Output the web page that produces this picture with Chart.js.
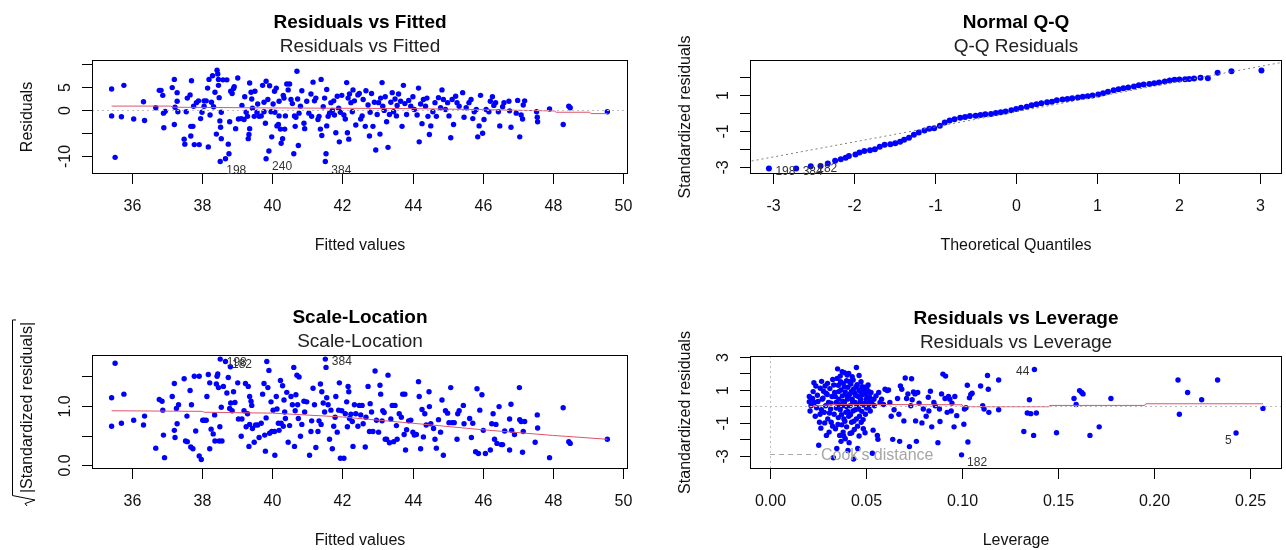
<!DOCTYPE html>
<html>
<head>
<meta charset="utf-8">
<script src="https://cdn.jsdelivr.net/npm/chart.js@4.4.0/dist/chart.umd.min.js"></script>
<style>
  html, body { margin: 0; padding: 0; background: #fff; }
  #wrap { position: relative; width: 1286px; height: 550px; }
  #wrap canvas { position: absolute; left: 0; top: 0; }
</style>
</head>
<body>
<div id="wrap">
  <canvas id="c1" width="1286" height="550"></canvas>
  <canvas id="c2" width="1286" height="550"></canvas>
  <canvas id="c3" width="1286" height="550"></canvas>
  <canvas id="c4" width="1286" height="550"></canvas>
</div>
<script>
// ===============================
// Data
// ===============================

// Residuals vs Fitted
const tlFitted = [
  35.41,35.41,35.51,35.69,35.76,36.04,36.32,36.35,36.67,36.77,
  36.82,36.87,36.89,36.90,36.94,37.14,37.20,37.20,37.22,37.28,
  37.28,37.30,37.48,37.50,37.54,37.57,37.65,37.67,37.67,37.69,
  37.73,37.75,37.77,37.83,37.89,37.91,37.95,37.99,38.05,38.05,
  38.11,38.15,38.17,38.19,38.22,38.26,38.29,38.32,38.36,38.40,
  38.42,38.44,38.46,38.46,38.48,38.50,38.52,38.54,38.54,38.51,
  38.59,38.66,38.70,38.74,38.76,38.78,38.81,38.85,38.89,38.91,
  38.95,39.01,39.03,39.11,39.13,39.19,39.21,39.25,39.29,39.31,
  39.33,39.35,39.35,39.39,39.41,39.43,39.48,39.50,39.56,39.58,
  39.62,39.68,39.72,39.76,39.76,39.80,39.82,39.82,39.87,39.90,
  39.92,39.96,39.98,40.02,40.06,40.07,40.11,40.13,40.17,40.19,
  40.19,40.23,40.25,40.29,40.31,40.33,40.35,40.37,40.41,40.45,
  40.49,40.53,40.57,40.61,40.63,40.65,40.67,40.70,40.72,40.74,
  40.76,40.80,40.84,40.90,40.92,40.98,41.04,41.10,41.12,41.16,
  41.20,41.24,41.30,41.33,41.37,41.39,41.41,41.45,41.49,41.53,
  41.51,41.55,41.55,41.59,41.63,41.67,41.71,41.75,41.77,41.81,
  41.85,41.89,41.91,41.94,41.98,42.04,42.08,42.12,42.14,42.16,
  42.18,42.20,42.24,42.28,42.30,42.34,42.38,42.44,42.48,42.52,
  42.56,42.59,42.65,42.67,42.73,42.77,42.79,42.83,42.87,42.91,
  42.95,42.99,43.03,43.07,43.09,43.13,43.15,43.19,43.22,43.26,
  43.30,43.34,43.38,43.42,43.46,43.50,43.54,43.56,43.60,43.66,
  43.70,43.74,43.78,43.83,43.89,43.95,44.01,44.05,44.13,44.17,
  44.19,44.23,44.27,44.31,44.37,44.41,44.44,44.48,44.52,44.58,
  44.64,44.68,44.74,44.80,44.84,44.88,44.94,45.00,45.04,45.09,
  45.13,45.17,45.23,45.27,45.33,45.43,45.47,45.53,45.61,45.67,
  45.72,45.76,45.82,45.86,45.90,45.94,46.00,46.04,46.10,46.18,
  46.22,46.28,46.32,46.37,46.45,46.49,46.57,46.61,46.75,46.77,
  46.81,46.96,47.00,47.06,47.10,47.14,47.16,47.20,47.54,47.56,
  47.57,47.91,48.30,48.46,48.50,49.56
];
const tlResid = [
  4.6,-1.3,-10.4,-1.5,5.4,-2.0,1.8,-2.3,0.5,4.3,
  4.3,3.2,-0.7,-3.9,-0.3,4.9,6.7,-3.2,0.6,3.8,
  1.9,-0.4,-6.4,-7.5,-0.4,2.6,3.3,-5.7,-3.6,6.4,
  -3.6,0.8,-7.6,1.6,2.0,-7.6,-1.9,-0.5,2.0,0.8,
  2.0,4.8,-8.1,6.7,-1.1,1.7,7.5,0.7,3.9,-5.3,
  8.7,7.9,6.7,5.4,2.7,-2.4,-3.8,-6.3,-0.5,-11.3,
  6.6,-10.7,6.6,-7.5,-9.6,-2.6,4.1,3.6,4.7,5.1,
  -4.1,7.0,-2.0,-1.9,1.0,-2.1,2.9,-0.5,-1.4,-6.3,
  -5.4,-4.1,5.9,3.9,2.4,0.4,-1.4,4.1,-0.5,1.3,
  -1.4,-1.3,5.4,1.7,-0.4,-2.9,6.3,-10.7,2.3,-9.0,
  5.3,-0.4,-5.9,1.3,4.1,-0.5,4.8,-3.5,-3.2,1.9,
  -1.3,-4.2,-7.3,-6.3,3.2,2.6,-4.2,-1.3,5.7,4.4,
  5.7,2.3,1.4,-9.6,-1.3,-3.6,-1.6,8.5,2.4,-7.8,
  -0.7,0.8,4.2,-2.9,-4.1,1.9,-0.7,3.5,-1.4,6.1,
  2.0,2.6,-2.1,-1.4,-4.2,6.7,-5.6,0.7,2.6,-9.6,
  -11.3,4.5,-3.5,-1.4,-0.7,1.6,-0.1,2.0,-1.1,-5.0,
  3.0,0.4,-7.0,-0.5,3.2,-1.1,-2.0,6.0,-5.0,2.6,
  -6.4,3.5,1.6,-0.4,4.4,2.0,-3.3,3.3,3.6,-2.0,
  -1.3,2.3,-3.6,4.2,1.1,-5.7,-0.5,3.6,-3.6,1.7,
  -8.8,-1.0,1.6,-5.3,2.6,6.0,0.8,-0.1,2.9,-2.6,
  -8.2,-1.0,1.7,3.8,-0.4,2.4,-1.3,1.0,3.5,1.9,
  -3.6,5.4,1.4,-1.0,2.1,0.8,2.9,0.1,-1.1,4.8,
  -7.0,1.3,-3.0,2.3,0.8,2.6,-1.4,-5.4,-3.5,-0.4,
  1.6,-1.4,2.7,0.5,4.4,2.3,0.1,1.6,-1.3,-6.1,
  2.3,-3.2,3.0,1.6,0.8,3.8,-1.6,0.5,1.6,2.3,
  -1.9,-0.4,0.1,-5.9,-3.5,3.2,-5.1,-2.1,0.1,-0.4,
  1.9,2.9,1.0,1.6,-0.4,-3.5,0.7,1.6,1.9,-0.2,
  -3.8,-0.7,2.1,-5.9,-1.1,-2.0,1.1,2.0,-0.4,-1.6,
  -2.6,0.2,-3.2,0.8,0.5,-0.4
];
const tlSmoothX = [35.41,37.10,37.15,38.0,40.0,42.0,44.0,46.0,47.2,48.05,48.10,49.05,49.10,49.56];
const tlSmoothY = [0.85,0.85,0.6,0.55,0.45,0.37,0.3,0.07,-0.1,-0.22,-0.5,-0.5,-0.8,-0.8];

// Normal Q-Q
const qqTheo = [
  -3.045,-2.71,-2.53,-2.41,-2.32,-2.23,-2.16,-2.10,-2.06,-1.98,
  -1.93,-1.87,-1.80,-1.74,-1.68,-1.62,-1.55,-1.49,-1.43,
  -1.38,-1.32,-1.26,-1.20,-1.13,-1.07,-1.01,-0.94,-0.88,-0.82,
  -0.76,-0.69,-0.63,-0.57,-0.50,-0.44,-0.38,-0.31,-0.25,-0.19,
  -0.13,-0.06,0,0.06,0.13,0.19,0.25,0.31,0.38,0.44,
  0.50,0.57,0.63,0.69,0.76,0.82,0.88,0.94,1.01,1.07,
  1.13,1.20,1.26,1.32,1.38,1.45,1.51,1.57,1.64,1.70,
  1.76,1.83,1.89,1.95,2.01,2.08,2.13,2.19,2.27,2.36,
  2.48,2.65,3.02
];
const qqStd = [
  -3.09,-3.09,-2.96,-2.94,-2.80,-2.65,-2.57,-2.48,-2.39,-2.30,
  -2.20,-2.11,-2.07,-2.01,-1.87,-1.77,-1.74,-1.68,-1.60,
  -1.49,-1.38,-1.21,-1.08,-0.97,-0.88,-0.84,-0.71,-0.52,-0.41,
  -0.34,-0.26,-0.22,-0.17,-0.15,-0.11,-0.07,-0.06,0.0,0.04,
  0.09,0.15,0.22,0.30,0.35,0.43,0.49,0.54,0.60,0.63,
  0.71,0.75,0.78,0.82,0.86,0.90,0.93,0.97,1.03,1.10,
  1.19,1.27,1.32,1.38,1.42,1.47,1.55,1.59,1.62,1.66,
  1.70,1.75,1.81,1.85,1.87,1.88,1.90,1.92,1.96,1.94,
  2.24,2.33,2.37
];
const qqLineX = [-3.5, 3.5];
const qqLineY = [-2.87, 3.01];

// Scale-Location
const slFitted = [
  35.41,35.41,35.51,35.69,35.76,36.04,36.32,36.35,36.67,36.77,
  36.85,36.87,36.89,36.92,37.14,37.20,37.20,37.22,37.26,37.28,
  37.32,37.48,37.52,37.56,37.57,37.65,37.67,37.69,37.73,37.77,
  37.81,37.91,37.91,37.97,38.01,38.05,38.11,38.13,38.17,38.21,
  38.25,38.21,38.31,38.35,38.36,38.40,38.42,38.44,38.46,38.48,
  38.50,38.51,38.54,38.56,38.60,38.66,38.70,38.74,38.78,38.80,
  38.81,38.85,38.89,38.93,39.01,39.03,39.11,39.13,39.19,39.23,
  39.25,39.29,39.31,39.33,39.35,39.35,39.39,39.41,39.43,39.48,
  39.52,39.58,39.62,39.68,39.72,39.76,39.78,39.80,39.82,39.84,
  39.87,39.90,39.92,39.96,39.98,40.02,40.06,40.07,40.11,40.13,
  40.17,40.19,40.23,40.25,40.29,40.31,40.33,40.35,40.37,40.41,
  40.45,40.49,40.53,40.57,40.61,40.63,40.65,40.67,40.70,40.72,
  40.74,40.76,40.80,40.84,40.90,40.92,40.98,41.06,41.10,41.12,
  41.16,41.20,41.24,41.30,41.33,41.37,41.39,41.41,41.45,41.49,
  41.51,41.53,41.55,41.59,41.63,41.67,41.71,41.75,41.79,41.81,
  41.85,41.89,41.91,41.94,41.98,42.04,42.08,42.12,42.14,42.16,
  42.18,42.20,42.24,42.28,42.30,42.34,42.38,42.44,42.48,42.52,
  42.56,42.59,42.65,42.67,42.73,42.77,42.79,42.83,42.87,42.93,
  42.97,43.03,43.07,43.09,43.13,43.15,43.19,43.22,43.26,43.30,
  43.34,43.38,43.42,43.46,43.50,43.54,43.56,43.62,43.68,43.72,
  43.76,43.78,43.80,43.83,43.89,43.95,44.01,44.05,44.11,44.17,
  44.19,44.23,44.27,44.31,44.35,44.39,44.47,44.48,44.52,44.60,
  44.64,44.68,44.74,44.80,44.84,44.88,44.94,45.00,45.04,45.09,
  45.13,45.19,45.27,45.29,45.33,45.45,45.47,45.63,45.68,45.72,
  45.80,45.84,45.88,45.92,45.98,46.02,46.08,46.22,46.26,46.30,
  46.34,46.38,46.41,46.47,46.53,46.57,46.63,46.77,46.77,46.81,
  46.83,46.91,47.05,47.06,47.10,47.14,47.16,47.20,47.50,47.56,
  47.57,47.91,48.30,48.46,48.50,49.56
];
const slRoot = [
  1.14,0.66,1.72,0.71,1.20,0.76,0.68,0.83,0.29,1.11,
  1.08,0.93,0.51,0.13,1.16,1.38,0.59,0.47,0.96,0.70,
  1.02,1.46,0.41,0.83,0.40,1.26,0.31,1.02,0.28,1.50,
  0.58,1.50,0.16,0.10,0.76,0.76,0.76,1.16,1.53,0.28,
  0.61,1.39,0.53,0.85,0.41,1.37,1.50,1.54,1.31,0.41,
  0.65,1.79,0.98,0.41,1.33,1.75,1.22,1.48,0.96,1.66,
  1.05,0.92,1.24,1.06,1.39,0.78,0.49,0.78,0.92,1.38,
  0.65,0.87,1.33,0.32,1.16,0.69,1.08,1.01,0.62,0.39,
  0.68,0.68,0.47,0.71,1.20,1.38,0.51,0.24,0.80,1.75,
  1.31,1.60,0.54,1.07,0.57,0.93,0.57,0.17,1.16,0.95,
  0.71,0.59,1.43,0.71,1.34,0.66,1.10,0.90,0.79,1.23,
  0.39,0.67,1.16,1.02,1.65,0.32,0.92,1.19,1.52,1.02,
  0.79,1.49,0.49,0.69,1.08,0.90,1.07,0.17,0.57,0.75,
  1.30,1.02,0.30,0.57,0.75,1.37,0.69,1.24,1.05,0.90,
  1.79,1.65,1.14,1.02,0.44,0.93,0.28,0.66,0.81,1.16,
  0.56,0.93,1.39,0.12,0.92,0.12,0.87,1.07,0.65,1.33,
  1.24,0.79,0.86,0.74,0.32,1.02,0.87,0.66,1.01,0.85,
  1.01,0.70,0.31,0.81,1.33,0.57,1.04,0.90,0.57,1.59,
  0.76,0.56,1.35,1.20,0.75,0.92,0.89,0.44,0.44,1.52,
  0.38,0.78,1.01,0.40,1.01,0.67,0.44,0.87,0.81,1.20,
  0.52,1.20,0.26,0.60,0.75,0.76,0.56,0.51,0.52,1.41,
  1.16,0.28,0.94,0.48,0.87,0.68,1.24,0.99,0.70,0.62,
  0.44,0.29,0.77,0.56,1.10,0.17,0.92,0.88,0.72,1.31,
  0.72,0.72,0.44,0.87,0.92,1.01,0.70,0.79,0.47,0.71,
  0.23,1.29,0.20,0.93,1.19,0.59,0.20,0.26,0.70,0.87,
  0.44,0.69,0.37,0.99,0.35,0.35,0.58,0.26,0.78,1.03,
  0.59,0.52,1.31,0.77,0.74,0.22,0.57,0.74,0.39,0.85,
  0.63,0.13,0.97,0.40,0.37,0.44
];
const slSmoothX = [35.41,38.0,38.05,40.0,42.0,44.0,46.0,48.0,49.56];
const slSmoothY = [0.92,0.91,0.895,0.88,0.815,0.71,0.60,0.505,0.44];

// Residuals vs Leverage
const lvLeverage = [
  .0205,.0205,.0209,.0214,.0222,.0229,.0232,.0239,.0243,.0247,
  .0254,.0258,.0261,.0265,.0269,.0272,.0279,.0283,.0287,.0290,
  .0294,.0298,.0301,.0305,.0308,.0312,.0316,.0319,.0323,.0327,
  .0330,.0334,.0337,.0341,.0345,.0348,.0352,.0356,.0356,.0359,
  .0363,.0366,.0366,.0370,.0370,.0374,.0377,.0377,.0381,.0381,
  .0385,.0388,.0388,.0392,.0392,.0395,.0399,.0399,.0403,.0406,
  .0406,.0410,.0410,.0414,.0417,.0417,.0421,.0425,.0428,.0428,
  .0432,.0435,.0435,.0439,.0443,.0446,.0450,.0450,.0454,.0457,
  .0461,.0464,.0464,.0468,.0472,.0475,.0479,.0483,.0486,.0490,
  .0493,.0497,.0501,.0504,.0508,.0512,.0515,.0519,.0522,.0526,
  .0530,.0533,.0537,.0541,.0544,.0552,.0559,.0562,.0566,.0573,
  .0581,.0591,.0599,.0610,.0617,.0624,.0631,.0639,.0646,.0664,
  .0671,.0675,.0679,.0686,.0697,.0704,.0711,.0718,.0726,.0733,
  .0737,.0740,.0747,.0755,.0758,.0762,.0769,.0776,.0791,.0798,
  .0813,.0824,.0827,.0835,.0842,.0853,.0860,.0874,.0882,.0885,
  .0893,.0900,.0911,.0914,.0922,.0929,.0936,.0943,.0947,.0958,
  .0962,.0972,.0997,.1009,.1012,.1020,.1027,.1030,.1038,.1045,
  .1052,.1096,.1107,.1114,.1132,.1136,.1139,.1190,.1190,.1321,
  .1350,.1339,.1357,.1372,.1376,.1386,.1491,.1582,.1593,.1611,
  .1622,.1629,.1665,.1713,.1774,.2123,.2130,.2173,.2246,.2329,
  .2425,.2565,
  .0225,.0236,.0250,.0262,.0268,.0276,.0285,.0292,.0300,.0310,
  .0318,.0326,.0332,.0340,.0346,.0350,.0354,.0358,.0362,.0368,
  .0372,.0376,.0380,.0384,.0387,.0390,.0394,.0398,.0402,.0405,
  .0408,.0412,.0415,.0419,.0423,.0426,.0430,.0433,.0437,.0441,
  .0444,.0448,.0452,.0456,.0459,.0463,.0466,.0470,.0474,.0478,
  .0481,.0485,.0488,.0492,.0495,.0499,.0503,.0507,.0511,.0517
];
const lvStd = [
  .60,.28,-.28,.04,.48,1.44,.24,1.24,-.08,.68,
  -2.36,-.96,-.48,-1.32,1.52,.44,.92,-.36,1.24,.04,
  -1.76,.72,-.76,.24,-1.56,1.08,-.16,-.96,.60,1.64,
  -3.12,-.48,.84,-1.36,.24,-2.56,2.28,1.28,-.68,.44,
  -1.76,1.84,-.20,1.00,-2.12,-1.12,.64,.04,1.40,-1.56,
  -.76,2.04,.24,.88,-1.96,-.36,1.56,-1.24,.44,1.16,
  -2.68,2.00,-.60,.72,.04,-1.64,1.36,-.96,1.80,.44,
  -.28,1.04,-3.20,-1.40,.24,.68,2.36,-.76,1.32,-2.56,
  -.16,1.88,-1.80,.92,.44,-.96,1.20,.08,-1.36,.76,
  1.16,-.48,.44,1.16,.28,.92,-.04,.56,-.28,.84,
  .24,-2.84,-1.44,.44,.04,.64,-1.76,-2.00,.84,.24,
  .44,.12,1.04,.96,1.00,.24,-.60,-2.00,-.20,.48,
  -.48,-2.12,1.24,1.04,-.88,1.72,.48,.76,-2.44,.04,
  1.68,.40,.88,.76,-.88,-2.12,.84,.20,-1.00,-.16,
  -.60,.56,-.28,.92,-1.24,.24,.04,-2.20,-.16,-.92,
  .76,1.96,.48,1.84,-.36,.60,.44,-.28,.20,-1.24,
  .60,-.56,-2.94,-1.08,-.16,-.08,1.28,-2.16,.52,.72,
  .80,1.24,.04,-.16,1.88,1.04,-.36,1.60,-.20,-1.52,
  .40,-.40,-.44,-1.76,2.24,-.40,-1.60,.48,.12,.96,
  .84,.76,-1.76,-1.24,.48,1.60,-.48,.84,.40,1.60,
  -1.61,-.12,
  .90,-.60,.30,1.10,-.20,.50,-1.00,.80,1.40,-.40,
  .20,-1.20,1.30,.60,-.10,1.70,-1.10,.90,.10,1.50,
  -.50,2.10,.30,-1.80,1.20,-.90,.70,.00,1.90,-.30,
  .50,-2.20,1.50,-.50,.90,-1.60,.30,1.60,-.90,.80,
  -.20,1.20,.10,-1.20,.60,1.00,-.60,.30,1.50,-.30,
  .70,-.80,1.00,.20,-1.60,.90,-.10,.60,1.30,.30
];
const lvSmoothX = [0.0205,0.033,0.100,0.1005,0.145,0.1455,0.195,0.1955,0.2565];
const lvSmoothY = [-0.02,0.12,0.10,-0.02,-0.02,0.06,0.06,0.16,0.16];

// Tick values and labels
const fitTicks = [36, 38, 40, 42, 44, 46, 48, 50];
const fitTickLabels = ['36', '38', '40', '42', '44', '46', '48', '50'];
const residTicks = [-10, -5, 0, 5, 10];
const residTickLabels = ['-10', '', '0', '5', ''];
const qqXTicks = [-3, -2, -1, 0, 1, 2, 3];
const qqXTickLabels = ['-3', '-2', '-1', '0', '1', '2', '3'];
const qqYTicks = [-3, -2, -1, 0, 1, 2];
const qqYTickLabels = ['-3', '', '-1', '', '1', ''];
const slYTicks = [0, 0.5, 1, 1.5];
const slYTickLabels = ['0.0', '', '1.0', ''];
const lvXTicks = [0, 0.05, 0.10, 0.15, 0.20, 0.25];
const lvXTickLabels = ['0.00', '0.05', '0.10', '0.15', '0.20', '0.25'];
const lvYTicks = [-3, -2, -1, 0, 1, 2, 3];
const lvYTickLabels = ['-3', '', '-1', '', '1', '', '3'];

// ===============================
// Helpers
// ===============================
const FONT = '"Liberation Sans", Arial, Helvetica, sans-serif';
const BLUE = '#0000ff';
const RED = '#DF536B';

function pts(xs, ys) {
  return xs.map((v, i) => ({ x: v, y: ys[i] }));
}

// draws the R style frame: box, ticks, titles, point ids
function makeFrame(p) {
  return {
    id: 'rFrame',
    afterDatasetsDraw(chart) {
      const { ctx, chartArea: a } = chart;
      const xs = chart.scales.x, ys = chart.scales.y;
      ctx.save();
      ctx.beginPath();
      ctx.rect(a.left, a.top, a.right - a.left, a.bottom - a.top);
      ctx.clip();
      ctx.strokeStyle = '#bebebe';
      ctx.lineWidth = 1;
      ctx.setLineDash([2, 3]);
      (p.hLines || []).forEach(v => {
        const py = Math.round(ys.getPixelForValue(v)) + 0.5;
        ctx.beginPath(); ctx.moveTo(a.left, py); ctx.lineTo(a.right, py); ctx.stroke();
      });
      (p.vLines || []).forEach(v => {
        const px = Math.round(xs.getPixelForValue(v)) + 0.5;
        ctx.beginPath(); ctx.moveTo(px, a.top); ctx.lineTo(px, a.bottom); ctx.stroke();
      });
      ctx.restore();
    },
    afterDraw(chart) {
      const { ctx, chartArea: a } = chart;
      const xs = chart.scales.x, ys = chart.scales.y;
      const cx = (a.left + a.right) / 2;
      const cy = (a.top + a.bottom) / 2;
      ctx.save();
      ctx.setLineDash([]);
      ctx.strokeStyle = '#000';
      ctx.lineWidth = 1;
      ctx.strokeRect(a.left + 0.5, a.top + 0.5, a.right - a.left - 1, a.bottom - a.top - 1);

      // x axis
      ctx.fillStyle = '#111';
      ctx.font = '16px ' + FONT;
      ctx.textAlign = 'center';
      ctx.textBaseline = 'alphabetic';
      p.xTicks.forEach((v, i) => {
        const px = Math.round(xs.getPixelForValue(v)) + 0.5;
        ctx.beginPath(); ctx.moveTo(px, a.bottom); ctx.lineTo(px, a.bottom + 10); ctx.stroke();
        ctx.fillText(p.xLabels[i], px, a.bottom + 36.5);
      });

      // y axis, labels read upwards like R
      p.yTicks.forEach((v, i) => {
        const py = Math.round(ys.getPixelForValue(v)) + 0.5;
        ctx.beginPath(); ctx.moveTo(a.left - 10, py); ctx.lineTo(a.left, py); ctx.stroke();
        if (p.yLabels[i]) {
          ctx.save();
          ctx.translate(a.left - 22, py);
          ctx.rotate(-Math.PI / 2);
          ctx.fillText(p.yLabels[i], 0, 0);
          ctx.restore();
        }
      });

      // axis titles
      ctx.fillText(p.xTitle, cx, a.bottom + 76);
      ctx.save();
      if (p.sqrtTitle) {
        ctx.translate(a.left - 60, cy - 4.5);
        ctx.rotate(-Math.PI / 2);
        const w = ctx.measureText(p.yTitle).width;
        ctx.textAlign = 'left';
        ctx.fillText(p.yTitle, -w / 2, 0);
        const x0 = -w / 2 - 2;
        ctx.beginPath();
        ctx.moveTo(x0 - 11, -5);
        ctx.lineTo(x0 - 8.5, -7);
        ctx.lineTo(x0 - 5, 3);
        ctx.lineTo(x0 - 0.5, -19.5);
        ctx.lineTo(x0 + w + 4, -19.5);
        ctx.lineTo(x0 + w + 4, -16);
        ctx.stroke();
      } else {
        ctx.translate(a.left - 60, cy);
        ctx.rotate(-Math.PI / 2);
        ctx.fillText(p.yTitle, 0, 0);
      }
      ctx.restore();

      // main title + caption
      ctx.fillStyle = '#000';
      ctx.font = 'bold 19px ' + FONT;
      ctx.fillText(p.title, cx, a.top - 32);
      ctx.fillStyle = '#222';
      ctx.font = '19px ' + FONT;
      ctx.fillText(p.sub, cx, a.top - 8.5);

      // point ids
      ctx.fillStyle = '#333';
      ctx.font = '12px ' + FONT;
      (p.ids || []).forEach(d => {
        ctx.textAlign = d.align || 'left';
        ctx.fillText(d.text, xs.getPixelForValue(d.x) + d.dx, ys.getPixelForValue(d.y) + d.dy);
      });

      // Cook's distance legend
      if (p.cook) {
        const ly = Math.round(a.bottom - 15) + 0.5;
        ctx.strokeStyle = '#aaaaaa';
        ctx.setLineDash([5, 4]);
        ctx.beginPath(); ctx.moveTo(a.left + 20, ly); ctx.lineTo(a.left + 67, ly); ctx.stroke();
        ctx.setLineDash([]);
        ctx.fillStyle = '#a6a6a6';
        ctx.font = '16px ' + FONT;
        ctx.textAlign = 'left';
        ctx.textBaseline = 'middle';
        ctx.fillText("Cook's distance", a.left + 71, a.bottom - 13.5);
      }
      ctx.restore();
    }
  };
}

function pointSet(data, r) {
  return {
    data: data,
    showLine: false,
    pointRadius: r || 2.7,
    pointBackgroundColor: BLUE,
    pointBorderWidth: 0,
    order: 2
  };
}

function lineSet(data, color, dash) {
  return {
    data: data,
    showLine: true,
    borderColor: color,
    borderWidth: 1,
    borderDash: dash || [],
    pointRadius: 0,
    fill: false,
    order: 1
  };
}

function makeChart(id, p, datasets) {
  return new Chart(document.getElementById(id), {
    type: 'scatter',
    data: { datasets: datasets },
    options: {
      responsive: false,
      animation: false,
      devicePixelRatio: 1,
      events: [],
      layout: { padding: p.pad },
      plugins: { legend: { display: false }, tooltip: { enabled: false } },
      scales: {
        x: { type: 'linear', min: p.xr[0], max: p.xr[1], display: false },
        y: { type: 'linear', min: p.yr[0], max: p.yr[1], display: false }
      }
    },
    plugins: [makeFrame(p)]
  });
}

// ===============================
// Panels
// ===============================
makeChart('c1', {
  pad: { left: 92, top: 60, right: 658, bottom: 376 },
  xr: [34.85, 50.15], yr: [-14.05, 10.96],
  title: 'Residuals vs Fitted', sub: 'Residuals vs Fitted',
  xTitle: 'Fitted values', yTitle: 'Residuals',
  xTicks: fitTicks, xLabels: fitTickLabels,
  yTicks: residTicks, yLabels: residTickLabels,
  hLines: [0],
  ids: [
    { x: 38.51, y: -11.3, text: '198', dx: 6, dy: 12.5 },
    { x: 39.82, y: -10.7, text: '240', dx: 6, dy: 11.5 },
    { x: 41.51, y: -11.3, text: '384', dx: 6, dy: 12.5 }
  ]
}, [pointSet(pts(tlFitted, tlResid)), lineSet(pts(tlSmoothX, tlSmoothY), RED)]);

makeChart('c2', {
  pad: { left: 750, top: 60, right: 1, bottom: 376 },
  xr: [-3.278, 3.273], yr: [-3.39, 2.95],
  title: 'Normal Q-Q', sub: 'Q-Q Residuals',
  xTitle: 'Theoretical Quantiles', yTitle: 'Standardized residuals',
  xTicks: qqXTicks, xLabels: qqXTickLabels,
  yTicks: qqYTicks, yLabels: qqYTickLabels,
  ids: [
    { x: -3.045, y: -3.09, text: '198', dx: 6.5, dy: 6 },
    { x: -2.71, y: -3.09, text: '384', dx: 6.5, dy: 6 },
    { x: -2.53, y: -2.96, text: '182', dx: 6.5, dy: 5.5 }
  ]
}, [pointSet(pts(qqTheo, qqStd), 3), lineSet(pts(qqLineX, qqLineY), '#808080', [2, 3])]);

makeChart('c3', {
  pad: { left: 92, top: 355, right: 658, bottom: 81 },
  xr: [34.85, 50.15], yr: [-0.061, 1.859],
  title: 'Scale-Location', sub: 'Scale-Location',
  xTitle: 'Fitted values', yTitle: '|Standardized residuals|', sqrtTitle: true,
  xTicks: fitTicks, xLabels: fitTickLabels,
  yTicks: slYTicks, yLabels: slYTickLabels,
  ids: [
    { x: 38.51, y: 1.79, text: '198', dx: 6.5, dy: 6.5 },
    { x: 38.66, y: 1.75, text: '182', dx: 6.5, dy: 6.5 },
    { x: 41.51, y: 1.79, text: '384', dx: 6.5, dy: 6 }
  ]
}, [pointSet(pts(slFitted, slRoot)), lineSet(pts(slSmoothX, slSmoothY), RED)]);

makeChart('c4', {
  pad: { left: 750, top: 356, right: 1, bottom: 81 },
  xr: [-0.01035, 0.2664], yr: [-3.80, 3.06],
  title: 'Residuals vs Leverage', sub: 'Residuals vs Leverage',
  xTitle: 'Leverage', yTitle: 'Standardized residuals',
  xTicks: lvXTicks, xLabels: lvXTickLabels,
  yTicks: lvYTicks, yLabels: lvYTickLabels,
  hLines: [0], vLines: [0], cook: true,
  ids: [
    { x: 0.0997, y: -2.94, text: '182', dx: 5.5, dy: 11.5 },
    { x: 0.1376, y: 2.24, text: '44', dx: -5, dy: 5.5, align: 'right' },
    { x: 0.2425, y: -1.61, text: '5', dx: -4.5, dy: 11, align: 'right' }
  ]
}, [pointSet(pts(lvLeverage, lvStd)), lineSet(pts(lvSmoothX, lvSmoothY), RED)]);
</script>
</body>
</html>
